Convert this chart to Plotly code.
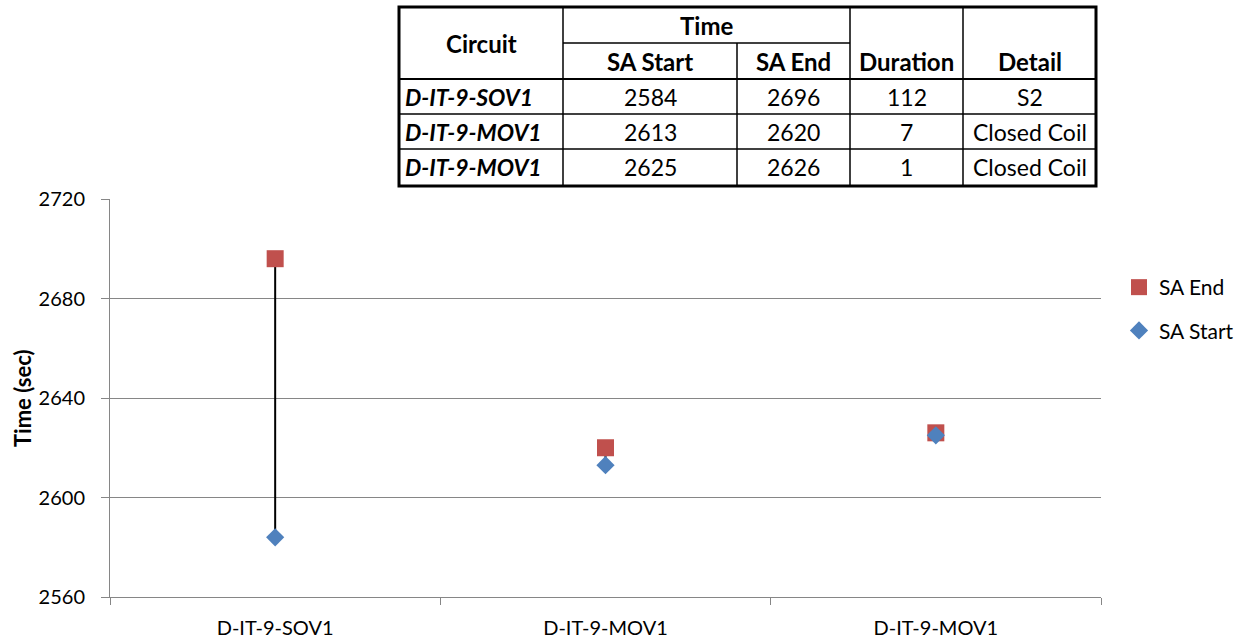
import plotly.graph_objects as go

# ---- data ----
circuits = ["D-IT-9-SOV1", "D-IT-9-MOV1", "D-IT-9-MOV1"]
sa_start = [2584, 2613, 2625]
sa_end = [2696, 2620, 2626]
details = ["S2", "Closed Coil", "Closed Coil"]
durations = [e - s for s, e in zip(sa_start, sa_end)]
y_ticks = [2560, 2600, 2640, 2680, 2720]

FONT = "Lato"
RED = "#C0504D"
BLUE = "#4F81BD"
GRID = "#868686"

W, H = 1242, 641
L, R, T, B = 110, 141, 199, 44
PW, PH = W - L - R, H - T - B


def px(x):
    return (x - L) / PW


def py(y):
    return (H - B - y) / PH


xs = list(range(len(circuits)))

fig = go.Figure()

# high-low connectors between start and end of each circuit
hl_x, hl_y = [], []
for i, (s, e) in enumerate(zip(sa_start, sa_end)):
    hl_x += [i, i, None]
    hl_y += [s, e, None]
fig.add_trace(go.Scatter(x=hl_x, y=hl_y, mode="lines",
                         line=dict(color="black", width=2),
                         showlegend=False, hoverinfo="skip"))

fig.add_trace(go.Scatter(x=xs, y=sa_end, mode="markers", name="SA End",
                         legendgroup="end",
                         marker=dict(symbol="square", size=17, color=RED)))
fig.add_trace(go.Scatter(x=xs, y=sa_start, mode="markers", name="SA Start",
                         legendgroup="start",
                         marker=dict(symbol="diamond", size=14, color=BLUE)))

# invisible trace to activate the boundary-tick axis
fig.add_trace(go.Scatter(x=[None], y=[None], xaxis="x2", showlegend=False,
                         hoverinfo="skip"))

fig.update_layout(
    width=W, height=H,
    margin=dict(l=L, r=R, t=T, b=B, autoexpand=False),
    paper_bgcolor="white", plot_bgcolor="white",
    font=dict(family=FONT, color="black"),
    xaxis=dict(range=[-0.5, len(circuits) - 0.5], tickvals=xs, ticktext=circuits,
               ticks="", showgrid=False, zeroline=False, automargin=False,
               showline=True, linecolor=GRID, linewidth=1,
               tickfont=dict(size=20, family=FONT, color="black"),
               ticklabelstandoff=13),
    xaxis2=dict(range=[-0.5, len(circuits) - 0.5], overlaying="x", side="bottom",
                anchor="y", automargin=False,
                tickvals=[i - 0.5 for i in range(len(circuits) + 1)],
                ticks="outside", ticklen=7, tickcolor=GRID, tickwidth=1,
                showticklabels=False, showgrid=False, zeroline=False,
                showline=False),
    yaxis=dict(range=[y_ticks[0], y_ticks[-1]], tickvals=y_ticks,
               showgrid=True, gridcolor=GRID, gridwidth=1, zeroline=False,
               showline=True, linecolor=GRID, linewidth=1, automargin=False,
               ticks="outside", ticklen=8, tickcolor=GRID,
               tickfont=dict(size=20, family=FONT, color="black"),
               ticklabelstandoff=12),
    legend=dict(x=px(1119), y=py(267), xanchor="left", yanchor="top",
                font=dict(size=21, family=FONT, color="black"),
                tracegroupgap=13, bgcolor="rgba(0,0,0,0)", itemwidth=30),
    showlegend=True,
)

annotations = [
    dict(text="<b>Time (sec)</b>", x=px(22), y=0.5, xref="paper", yref="paper",
         textangle=-90, showarrow=False, xanchor="center", yanchor="middle",
         font=dict(size=22, family=FONT, color="black")),
]

# ---- summary table drawn above the chart ----
t_left, t_right, t_top, t_bottom = 399, 1096, 7, 186
col_edges = [t_left, 563, 737, 850, 963, t_right]
head_mid, head_bot = 43, 79
row_lines = [114, 149]
row_centers = [97, 132, 167]

shapes = []


def hline(y, x0, x1, w=1.5):
    shapes.append(dict(type="line", xref="paper", yref="paper",
                       x0=px(x0), x1=px(x1), y0=py(y), y1=py(y),
                       line=dict(color="black", width=w)))


def vline(x, y0, y1, w=1.5):
    shapes.append(dict(type="line", xref="paper", yref="paper",
                       x0=px(x), x1=px(x), y0=py(y0), y1=py(y1),
                       line=dict(color="black", width=w)))


shapes.append(dict(type="rect", xref="paper", yref="paper",
                   x0=px(t_left), x1=px(t_right), y0=py(t_top), y1=py(t_bottom),
                   line=dict(color="black", width=3), fillcolor="rgba(0,0,0,0)"))
# full-height column rules; the SA Start / SA End rule starts below the Time header
vline(563, t_top, t_bottom)
vline(737, head_mid, t_bottom)
vline(850, t_top, t_bottom)
vline(963, t_top, t_bottom)
hline(head_mid, 563, 850)
hline(head_bot, t_left, t_right, w=2)
for ry in row_lines:
    hline(ry, t_left, t_right)


def cell(text, x, y, bold=False, italic=False, anchor="center", size=23):
    if bold:
        text = f"<b>{text}</b>"
    if italic:
        text = f"<i>{text}</i>"
    annotations.append(dict(text=text, x=px(x), y=py(y), xref="paper", yref="paper",
                            showarrow=False, xanchor=anchor, yanchor="middle",
                            font=dict(size=size, family=FONT, color="black")))


col_centers = [(col_edges[i] + col_edges[i + 1]) / 2 for i in range(len(col_edges) - 1)]
cell("Circuit", col_centers[0], 43, bold=True, size=24)
cell("Time", (563 + 850) / 2, 25, bold=True, size=24)
cell("SA Start", col_centers[1], 62, bold=True, size=24)
cell("SA End", col_centers[2], 62, bold=True, size=24)
cell("Duration", col_centers[3], 62, bold=True, size=24)
cell("Detail", col_centers[4], 62, bold=True, size=24)

for r, yc in enumerate(row_centers):
    cell(circuits[r], t_left + 4, yc, bold=True, italic=True, anchor="left", size=23)
    cell(str(sa_start[r]), col_centers[1], yc)
    cell(str(sa_end[r]), col_centers[2], yc)
    cell(str(durations[r]), col_centers[3], yc)
    cell(details[r], col_centers[4], yc)

fig.update_layout(shapes=shapes, annotations=annotations)

fig.write_html("out.html")
